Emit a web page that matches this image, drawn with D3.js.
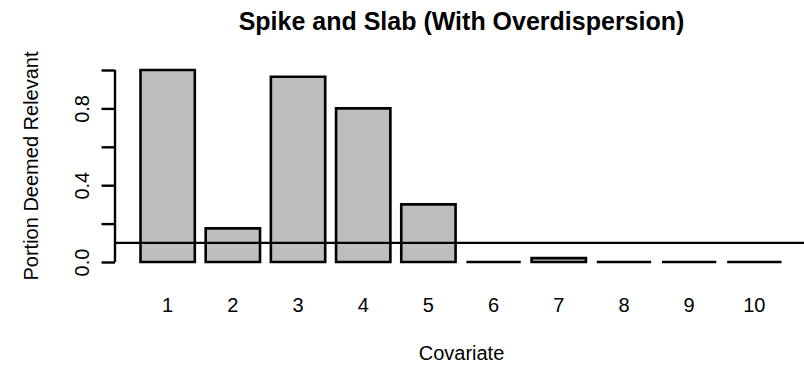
<!DOCTYPE html>
<html>
<head>
<meta charset="utf-8">
<script src="https://cdn.jsdelivr.net/npm/d3@7"></script>
<style>
  html, body { margin: 0; padding: 0; background: #fff; }
  svg { display: block; font-family: "Liberation Sans", Arial, sans-serif; }
</style>
</head>
<body>
<svg id="chart" width="804" height="366"></svg>
<script>
// Posterior inclusion proportions per covariate
const covariates = ["1", "2", "3", "4", "5", "6", "7", "8", "9", "10"];
const relevance = [1.0, 0.175, 0.965, 0.80, 0.30, 0.0, 0.02, 0.0, 0.0, 0.0];
const yTicks = [0, 0.2, 0.4, 0.6, 0.8, 1.0];
const yTickLabels = ["0.0", "", "0.4", "", "0.8", ""];
const threshold = [0.1];

const svg = d3.select("#chart");
const plotLeft = 115, plotRight = 808;

const x = d3.scaleBand()
  .domain(covariates)
  .range([140.5, 781.5])
  .paddingInner(0.2 / 1.2)
  .paddingOuter(0);

const y = d3.scaleLinear().domain([0, 1]).range([262, 70]);

// Bars (paths so zero-height bars still show their outline)
svg.append("g")
  .selectAll("path")
  .data(relevance)
  .join("path")
  .attr("d", (d, i) => {
    const x0 = x(covariates[i]), x1 = x0 + x.bandwidth();
    return `M${x0},${y(0)}H${x1}V${y(d)}H${x0}Z`;
  })
  .attr("fill", "#bebebe")
  .attr("stroke", "#000")
  .attr("stroke-width", 2.6);

// Reference line at 0.1
svg.append("g")
  .selectAll("line")
  .data(threshold)
  .join("line")
  .attr("x1", plotLeft).attr("x2", plotRight)
  .attr("y1", d => y(d)).attr("y2", d => y(d))
  .attr("stroke", "#000").attr("stroke-width", 2.2);

// Y axis
const yAxis = d3.axisLeft(y)
  .tickValues(yTicks)
  .tickSize(13.5)
  .tickPadding(0)
  .tickFormat((d, i) => yTickLabels[i]);

const gy = svg.append("g")
  .attr("transform", `translate(${plotLeft},0)`)
  .call(yAxis);
gy.select(".domain")
  .attr("d", `M0,${y(0)}V${y(1)}`)
  .attr("stroke", "#000").attr("stroke-width", 2.4);
gy.selectAll(".tick line").attr("stroke", "#000").attr("stroke-width", 2.4);
gy.selectAll(".tick text")
  .attr("x", null).attr("dy", null)
  .attr("transform", `translate(${89 - plotLeft},0) rotate(-90)`)
  .attr("text-anchor", "middle")
  .attr("font-size", 20)
  .attr("font-family", "Liberation Sans, Arial, sans-serif")
  .attr("fill", "#000");

// X category labels (no axis line, as in a base barplot)
svg.append("g")
  .selectAll("text")
  .data(covariates)
  .join("text")
  .attr("x", d => x(d) + x.bandwidth() / 2)
  .attr("y", 312)
  .attr("text-anchor", "middle")
  .attr("font-size", 20)
  .text(d => d);

// Titles
svg.append("text")
  .attr("x", (plotLeft + plotRight) / 2)
  .attr("y", 30)
  .attr("text-anchor", "middle")
  .attr("font-size", 25)
  .attr("font-weight", "bold")
  .text("Spike and Slab (With Overdispersion)");

svg.append("text")
  .attr("x", (plotLeft + plotRight) / 2)
  .attr("y", 360)
  .attr("text-anchor", "middle")
  .attr("font-size", 20)
  .text("Covariate");

svg.append("text")
  .attr("transform", `translate(38,166) rotate(-90)`)
  .attr("text-anchor", "middle")
  .attr("font-size", 20)
  .text("Portion Deemed Relevant");
</script>
</body>
</html>
